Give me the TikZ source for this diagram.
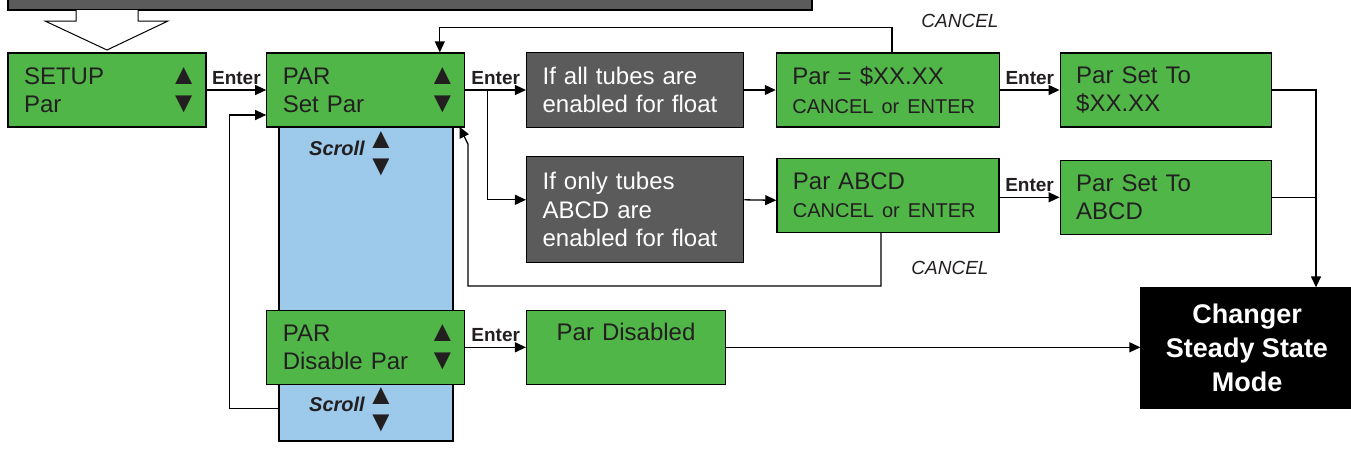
\documentclass[tikz,border=0pt]{standalone}
\usepackage{fontspec}
\setmainfont{Liberation Sans}
\usetikzlibrary{positioning,arrows.meta}

\definecolor{scrgreen}{HTML}{50B648}
\definecolor{condgray}{HTML}{5B5B5B}
\definecolor{colblue}{HTML}{9DC9EB}
\definecolor{ink}{HTML}{231F20}

\newcommand{\scrup}{{\fontsize{29}{28}\selectfont ▲}\kern-8pt}
\newcommand{\scrdn}{{\fontsize{29}{28}\selectfont ▼}\kern-8pt}
\newcommand{\rpush}{\hskip 0pt plus 1fill\relax}

\begin{document}
\begin{tikzpicture}[
				x=1pt, y=-1pt, line width=1.3pt,
				>={Triangle[length=11pt,width=10pt]},
				screen/.style={draw=black, fill=scrgreen, text=ink, text width=#1, align=left, inner xsep=16pt, minimum height=74pt, font=\fontsize{24}{28.5}\selectfont},
				screen/.default=166pt,
				cond/.style={draw=black, fill=condgray, text=white, text width=185pt, align=left, inner xsep=16pt, minimum height=75pt, font=\fontsize{24}{28.5}\selectfont},
				final/.style={draw=black, fill=black, text=white, align=center, minimum width=212pt, minimum height=120pt, font=\bfseries\fontsize{27}{34}\selectfont},
				col/.style={draw=black, fill=colblue, minimum width=174pt, minimum height=321pt},
				enter/.style={above=3pt, inner sep=2pt, text=ink, font=\bfseries\fontsize{19}{19}\selectfont},
				cancel/.style={text=ink, font=\itshape\fontsize{19}{19}\selectfont},
				scroll/.style={text=ink, font=\bfseries\itshape\fontsize{20}{20}\selectfont},
				updn/.style={text=ink, align=center, inner sep=0pt, font=\fontsize{29}{27}\selectfont}
			]

			\useasboundingbox (0,0) rectangle (1351,451);

			% banner and hollow arrow at the top
			\draw[fill=condgray] (8,-40) rectangle (812,10);
			\draw[fill=white, line width=1pt] (76,10) -- (76,21) -- (45,21) -- (107,50) -- (168,21) -- (138,21) -- (138,10);

			\node[col] (col) at (366,280.5) {};

			\node[screen] (setup) at (107,90) {SETUP\rpush\scrup\\Par\rpush\scrdn};
			\node[screen] (parset) [right=59.5pt of setup] {PAR\rpush\scrup\\Set Par\rpush\scrdn};
			\node[screen] (pardis) [below=182pt of parset] {PAR\rpush\scrup\\Disable Par\rpush\scrdn};

			\node[cond] (ifall) [right=60.5pt of parset] {If all tubes are\\enabled for float};
			\node[cond, minimum height=106pt] (ifonly) [below=28pt of ifall] {If only tubes\\ABCD are\\enabled for float};

			\node[screen=191pt] (pareq) [right=31.5pt of ifall] {Par = \$XX.XX\\{\fontsize{20}{24}\selectfont CANCEL or ENTER}};
			\node[screen=190pt] (parabcd) [below=30pt of pareq] {Par ABCD\\{\fontsize{20}{24}\selectfont CANCEL or ENTER}};
			\node[screen=179pt] (setto) [right=59.5pt of pareq] {Par Set To\\\$XX.XX};
			\node[screen=179pt] (settoabcd) [below=32pt of setto] {Par Set To\\ABCD};

			\node[screen=167pt, align=center, text height=18pt, text depth=32pt] (pardisd) [right=60.5pt of pardis] {Par Disabled};
			\node[final] (changer) at (1247,348) {Changer\\Steady State\\Mode};

			\node[scroll] (scrolla) at (337,148) {Scroll};
			\node[updn] (updna) at (381,154) {▲\\▼};
			\node[scroll] (scrollb) at (337,404) {Scroll};
			\node[updn] (updnb) at (381,410) {▲\\▼};

			\node[cancel] (cancela) at (960,21) {CANCEL};
			\node[cancel] (cancelb) at (950,268) {CANCEL};

			\coordinate (drop) at ([xshift=69pt]changer.north);

			\draw[->] (setup) -- node[enter] (entera) {Enter} (parset);
			\draw[->] ([yshift=33pt]col.south west) -| ([xshift=-37pt,yshift=-25pt]parset.west) -- ([yshift=-25pt]parset.west);
			\draw[->] (parset) -- node[enter] (enterb) {Enter} (ifall);
			\draw[->] ([xshift=22pt]parset.east) |- ([yshift=10pt]ifonly.west);
			\draw[->] (ifall) -- (pareq);
			\draw[->] ([yshift=10pt]ifonly.east) -- ([yshift=-5pt]parabcd.west);
			\draw[->] (pareq) -- node[enter] (enterc) {Enter} (setto);
			\draw[->] (parabcd.east |- settoabcd.west) -- node[enter] (enterd) {Enter} (settoabcd.west);
			\draw[->] (setto) -| (drop);
			\draw (settoabcd) -- (settoabcd -| drop);
			\draw[->] (pardis) -- node[enter] (entere) {Enter} (pardisd);
			\draw[->] (pardisd) -- (pardisd -| changer.west);

			\draw[->] ([xshift=4pt]pareq.north) -- ++(0,-25) -| ([xshift=74pt]parset.north);
			\draw[->] ([xshift=-7pt]parabcd.south) -- ++(0,53) -- ++(-413,0) -- ++(0,-142) -- ([xshift=-6pt,yshift=1pt]parset.south east);

		\end{tikzpicture}
\end{document}
